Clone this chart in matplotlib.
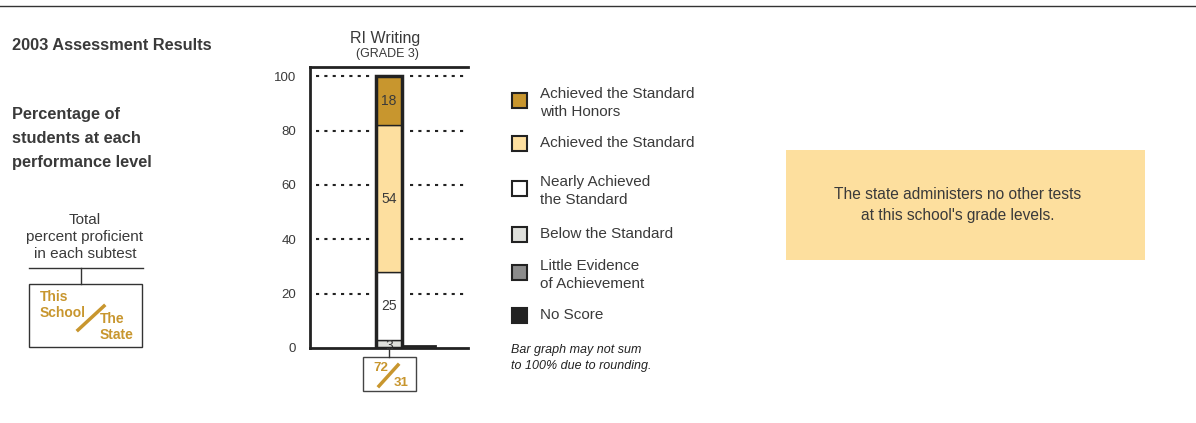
import matplotlib.pyplot as plt
from matplotlib.patches import Rectangle
from matplotlib.lines import Line2D

plt.rcParams['font.family'] = ['Liberation Sans', 'DejaVu Sans']

W, H = 1196, 423
TXT = '#3a3a3a'
GOLD = '#c8962e'

# bar data, bottom to top
levels = ['No Score', 'Little Evidence\nof Achievement', 'Below the Standard',
          'Nearly Achieved\nthe Standard', 'Achieved the Standard',
          'Achieved the Standard\nwith Honors']
colors = ['#222222', '#8c8c8c', '#dfe0dc', '#ffffff', '#fddf9f', '#c8962e']
values = [0, 0, 3, 25, 54, 18]
yticks = [0, 20, 40, 60, 80, 100]
school_pct, state_pct = 72, 31


def fx(px):
    return px / W


def fy(py):
    return 1 - py / H


fig = plt.figure(figsize=(W / 100, H / 100), dpi=100)

# top rule
fig.add_artist(Line2D([0, 1], [fy(6), fy(6)], color='#333', lw=1))

# main bar axes
ax = fig.add_axes([fx(310), fy(348), fx(468 - 310), (348 - 67) / H])
ax.set_xlim(0, 1)
ax.set_ylim(0, 103.4)
for g in yticks[1:]:
    ax.plot([0.04, 0.38], [g, g], color='#222', lw=1.5, ls=(0, (1.5, 2.5)), zorder=1)
    ax.plot([0.63, 1.0], [g, g], color='#222', lw=1.5, ls=(0, (1.5, 2.5)), zorder=1)

bw = 0.17
bottom = 0
for v, c in zip(values, colors):
    if v > 0:
        ax.bar(0.5, v, bw, bottom=bottom, color=c, edgecolor='#222', lw=1, zorder=3)
        ax.text(0.5, bottom + v / 2 - (0.8 if v < 5 else 0), str(v), ha='center', va='center',
                fontsize=10, color=TXT, zorder=4)
    bottom += v
ax.add_patch(Rectangle((0.5 - bw / 2, 0), bw, bottom, fill=False, ec='#222', lw=2.5, zorder=5))
ax.plot([0.5 + bw / 2, 0.79], [0.6, 0.6], color='#222', lw=2, zorder=5)

for s in ['left', 'top', 'bottom']:
    ax.spines[s].set_linewidth(2)
    ax.spines[s].set_color('#222')
ax.spines['right'].set_visible(False)
ax.set_xticks([])
ax.set_yticks(yticks)
ax.tick_params(axis='y', length=0, pad=10, labelsize=9.5, labelcolor=TXT)

fig.text(fx(385), fy(38), 'RI Writing', ha='center', va='center', fontsize=11.5, color=TXT)
fig.text(fx(387), fy(54), '(GRADE 3)', ha='center', va='center', fontsize=9, color=TXT)

# proficiency box under bar
fig.add_artist(Line2D([fx(389), fx(389)], [fy(348), fy(357)], color='#333', lw=1))
fig.add_artist(Rectangle((fx(363), fy(391)), fx(53), 34 / H, fill=False, ec='#444', lw=1))
fig.text(fx(381), fy(368), str(school_pct), ha='center', va='center', fontsize=9.5,
         color=GOLD, fontweight='bold')
fig.text(fx(401), fy(383), str(state_pct), ha='center', va='center', fontsize=9.5,
         color=GOLD, fontweight='bold')
fig.add_artist(Line2D([fx(379), fx(398)], [fy(386), fy(365)], color=GOLD, lw=2.5))

# legend
leg_y = [103, 143, 191, 234, 275, 315]
for lab, c, y in zip(levels[::-1], colors[::-1], leg_y):
    sq_y = y - 3 if '\n' in lab else y
    fig.add_artist(Rectangle((fx(512), fy(sq_y + 8)), fx(15), 15 / H, fc=c, ec='#222', lw=1.5))
    fig.text(fx(540), fy(y), lab, ha='left', va='center', fontsize=11, color=TXT,
             linespacing=1.35)
fig.text(fx(511), fy(358), 'Bar graph may not sum\nto 100% due to rounding.', ha='left',
         va='center', fontsize=9, color='#222', style='italic', linespacing=1.4)

# note box
fig.add_artist(Rectangle((fx(786), fy(260)), fx(1145 - 786), 110 / H, fc='#fddf9e', ec='none'))
fig.text(fx(958), fy(205), "The state administers no other tests\nat this school's grade levels.",
         ha='center', va='center', fontsize=11.2, color=TXT, linespacing=1.5)

# left text block
fig.text(fx(12), fy(46), '2003 Assessment Results', ha='left', va='center', fontsize=11.8,
         fontweight='bold', color=TXT)
fig.text(fx(12), fy(138), 'Percentage of\nstudents at each\nperformance level', ha='left',
         va='center', fontsize=11.8, fontweight='bold', color=TXT, linespacing=1.75)
fig.text(fx(85), fy(237), 'Total\npercent proficient\nin each subtest', ha='center',
         va='center', fontsize=11, color=TXT, linespacing=1.28)
fig.add_artist(Line2D([fx(29), fx(143)], [fy(268), fy(268)], color='#333', lw=1))
fig.add_artist(Line2D([fx(81), fx(81)], [fy(268), fy(284)], color='#333', lw=1))
fig.add_artist(Rectangle((fx(29), fy(347)), fx(113), 63 / H, fill=False, ec='#333', lw=1))
fig.text(fx(40), fy(305), 'This\nSchool', ha='left', va='center', fontsize=10, color=GOLD,
         fontweight='bold', linespacing=1.2)
fig.text(fx(100), fy(327), 'The\nState', ha='left', va='center', fontsize=10, color=GOLD,
         fontweight='bold', linespacing=1.2)
fig.add_artist(Line2D([fx(78), fx(104)], [fy(330), fy(306)], color=GOLD, lw=2.5))

fig.savefig('out.png', dpi=100, facecolor='white')
